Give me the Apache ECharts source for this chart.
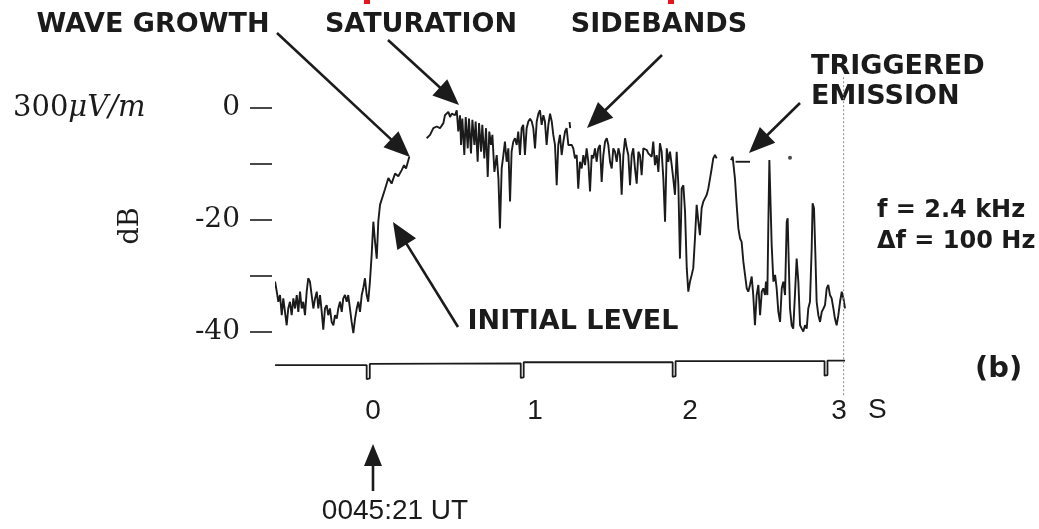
<!DOCTYPE html>
<html>
<head>
<meta charset="utf-8">
<script src="https://cdn.jsdelivr.net/npm/echarts@6/dist/echarts.min.js"></script>
<style>html,body{margin:0;padding:0;background:#fff}#c{width:1039px;height:529px}</style>
</head>
<body>
<div id="c"></div>
<script>
// ---- data: time in seconds, level in dB (re 300 uV/m) ----
const yTickValues = [0, -10, -20, -30, -40];
const yLabelValues = [0, -20, -40];
const xLabelValues = [0, 1, 2, 3];

const initialAndGrowth = [[-0.606,-31.0],[-0.595,-32.8],[-0.585,-34.6],[-0.574,-33.4],[-0.563,-37.0],[-0.553,-34.0],[-0.542,-36.4],[-0.531,-38.8],[-0.521,-35.8],[-0.510,-34.6],[-0.499,-37.0],[-0.488,-34.0],[-0.477,-35.8],[-0.466,-33.4],[-0.456,-36.4],[-0.445,-32.8],[-0.434,-35.8],[-0.424,-34.6],[-0.413,-37.0],[-0.402,-32.8],[-0.392,-30.4],[-0.381,-31.0],[-0.370,-33.4],[-0.359,-35.8],[-0.348,-34.0],[-0.337,-32.8],[-0.327,-35.8],[-0.316,-33.4],[-0.305,-36.4],[-0.295,-39.6],[-0.284,-35.8],[-0.273,-35.2],[-0.263,-37.0],[-0.252,-35.8],[-0.241,-38.2],[-0.230,-38.8],[-0.219,-37.0],[-0.208,-37.6],[-0.198,-35.8],[-0.187,-34.6],[-0.176,-36.4],[-0.166,-34.0],[-0.155,-33.4],[-0.144,-34.6],[-0.134,-33.4],[-0.123,-35.8],[-0.112,-38.2],[-0.101,-40.2],[-0.090,-37.6],[-0.079,-35.8],[-0.069,-34.6],[-0.058,-36.4],[-0.047,-33.4],[-0.037,-32.2],[-0.026,-30.4],[-0.015,-33.4],[-0.005,-34.6],[0.006,-31.0],[0.017,-26.3],[0.028,-20.3],[0.039,-23.9],[0.050,-26.9],[0.060,-20.3],[0.071,-17.3],[0.082,-17.1],[0.103,-14.5],[0.125,-12.5],[0.146,-13.5],[0.168,-11.7],[0.189,-12.2],[0.211,-11.1],[0.226,-10.2],[0.239,-10.8],[0.260,-8.7]];

const saturationAndSidebands = [[0.372,-5.4],[0.394,-4.8],[0.415,-3.6],[0.437,-3.3],[0.458,-3.6],[0.480,-2.7],[0.490,-1.3],[0.512,-0.7],[0.523,-1.6],[0.534,-1.0],[0.544,-0.7],[0.555,-1.3],[0.566,-0.4],[0.576,-4.2],[0.587,-1.3],[0.594,-6.6],[0.602,-1.9],[0.615,-8.4],[0.624,-1.6],[0.637,-7.2],[0.645,-1.9],[0.658,-8.1],[0.667,-2.1],[0.680,-6.6],[0.688,-2.4],[0.701,-9.6],[0.710,-2.7],[0.723,-7.8],[0.731,-3.0],[0.744,-9.0],[0.755,-3.6],[0.766,-12.3],[0.776,-4.2],[0.787,-6.6],[0.796,-4.8],[0.809,-11.4],[0.824,-8.4],[0.835,-12.6],[0.845,-21.5],[0.856,-10.8],[0.867,-8.4],[0.877,-6.0],[0.888,-9.6],[0.899,-7.2],[0.910,-16.7],[0.920,-7.8],[0.931,-6.0],[0.942,-5.4],[0.953,-6.6],[0.963,-4.2],[0.974,-8.4],[0.985,-3.6],[0.995,-3.0],[1.006,-8.4],[1.017,-3.6],[1.028,-2.4],[1.039,-1.9],[1.050,-2.4],[1.060,-3.6],[1.071,-7.2],[1.082,-2.4],[1.093,-1.0],[1.103,-0.4],[1.114,-3.0],[1.125,-1.3],[1.135,-2.4],[1.146,-6.6],[1.157,-3.0],[1.168,-1.0],[1.179,-2.4],[1.189,-4.8],[1.200,-6.6],[1.211,-13.8],[1.221,-6.6],[1.232,-4.8],[1.243,-8.4],[1.254,-6.0],[1.265,-4.2],[1.275,-3.6],[1.286,-6.6],[1.308,-6.6],[1.318,-7.2],[1.329,-9.0],[1.340,-8.4],[1.350,-14.4],[1.361,-9.6],[1.372,-10.8],[1.383,-8.4],[1.394,-10.2],[1.404,-7.2],[1.415,-9.6],[1.426,-14.9],[1.437,-8.4],[1.447,-9.0],[1.458,-7.2],[1.469,-9.6],[1.479,-7.2],[1.490,-6.6],[1.501,-13.2],[1.512,-8.4],[1.523,-6.0],[1.534,-5.4],[1.544,-6.6],[1.555,-9.6],[1.566,-10.8],[1.576,-7.2],[1.587,-7.8],[1.598,-9.6],[1.609,-7.2],[1.619,-8.4],[1.630,-15.5],[1.641,-8.4],[1.652,-5.4],[1.663,-7.2],[1.673,-8.4],[1.684,-13.8],[1.695,-8.4],[1.705,-7.2],[1.716,-10.8],[1.727,-13.5],[1.738,-7.8],[1.748,-8.4],[1.759,-12.0],[1.770,-7.2],[1.781,-6.9],[1.792,-7.5],[1.802,-8.1],[1.813,-7.8],[1.824,-8.7],[1.834,-6.0],[1.845,-10.2],[1.856,-8.4],[1.867,-11.4],[1.877,-6.3],[1.888,-7.8],[1.899,-12.6],[1.910,-20.3],[1.921,-7.2],[1.931,-9.6],[1.942,-7.8],[1.953,-10.2],[1.963,-12.6],[1.974,-15.5],[1.985,-7.8],[1.996,-13.8],[2.006,-26.9],[2.013,-20.3],[2.017,-14.4],[2.028,-13.8],[2.039,-18.5],[2.050,-28.6],[2.060,-32.8],[2.071,-31.0],[2.082,-29.8],[2.092,-28.6],[2.103,-23.3],[2.114,-17.3],[2.125,-20.3],[2.135,-22.7],[2.146,-17.9],[2.157,-16.7],[2.168,-16.1],[2.179,-15.5],[2.189,-14.4],[2.200,-12.6],[2.211,-10.8],[2.221,-9.0],[2.232,-8.4],[2.243,-9.0]];

const triggeredEmission = [[2.335,-9.3],[2.346,-8.7],[2.355,-9.0],[2.361,-12.6],[2.372,-17.3],[2.383,-21.5],[2.394,-23.3],[2.404,-23.9],[2.415,-27.4],[2.426,-29.8],[2.437,-32.2],[2.447,-32.8],[2.458,-31.6],[2.469,-30.1],[2.479,-33.4],[2.490,-38.8],[2.501,-33.4],[2.512,-31.6],[2.523,-37.0],[2.534,-32.8],[2.544,-32.2],[2.555,-33.4],[2.561,-31.0],[2.570,-33.4],[2.576,-21.5],[2.583,-9.3],[2.592,-9.6],[2.598,-24.5],[2.609,-31.0],[2.620,-29.8],[2.630,-32.2],[2.641,-36.4],[2.652,-38.2],[2.663,-32.2],[2.673,-31.0],[2.684,-33.4],[2.695,-20.3],[2.701,-19.7],[2.708,-27.4],[2.716,-35.8],[2.727,-38.8],[2.737,-39.4],[2.748,-33.4],[2.759,-26.9],[2.770,-31.0],[2.781,-38.8],[2.792,-39.4],[2.802,-39.9],[2.813,-38.8],[2.824,-39.4],[2.834,-35.8],[2.845,-34.6],[2.856,-25.1],[2.862,-17.0],[2.871,-17.9],[2.880,-26.3],[2.888,-34.6],[2.899,-37.0],[2.910,-38.2],[2.921,-36.4],[2.932,-35.8],[2.942,-35.2],[2.953,-32.2],[2.963,-31.6],[2.974,-33.4],[2.985,-34.0],[2.996,-35.8],[3.006,-37.6],[3.017,-38.8],[3.028,-37.0],[3.039,-34.6],[3.050,-32.8],[3.061,-34.0],[3.071,-35.8]];

const emissionDash = [[2.365,-9.6],[2.458,-9.6]];
const sidebandFragment = [[1.294,-2.5],[1.298,-3.6]];
const strayDots = [[2.716,-8.9]];

// one-second timing marks (bottom trace)
const timingTrace = [[-0.606,-45.9],[-0.015,-45.9],[-0.015,-48.4],[0.005,-48.3],[0.005,-45.7],[0.979,-45.6],[0.979,-48.2],[0.998,-48.1],[0.998,-45.4],[1.959,-45.4],[1.959,-48.0],[1.978,-47.9],[1.978,-45.2],[2.939,-45.2],[2.939,-47.8],[2.958,-47.7],[2.958,-45.1],[3.071,-45.1]];
const endMarker = [[3.062,5.5],[3.062,-51.5]];

// ---- chart ----
const INK = '#1b1b1b';
function traceSeries(data, width) {
  return {type: 'line', data: data, showSymbol: false, clip: false, silent: true,
          lineStyle: {color: INK, width: width || 1.9}, animation: false};
}

function arrow(x1, y1, x2, y2, hl, hw) {
  hl = hl || 26; hw = hw || 11;
  const dx = x2 - x1, dy = y2 - y1, L = Math.hypot(dx, dy);
  const ux = dx / L, uy = dy / L;
  const bx = x2 - ux * hl, by = y2 - uy * hl;
  const px = -uy, py = ux;
  return [
    {type: 'line', shape: {x1: x1, y1: y1, x2: bx + ux * 2, y2: by + uy * 2}, style: {stroke: INK, lineWidth: 2.6}},
    {type: 'polygon', shape: {points: [[x2, y2], [bx + px * hw, by + py * hw], [bx - px * hw, by - py * hw]]}, style: {fill: INK}}
  ];
}
function label(text, x, y, font, align) {
  return {type: 'text', x: x, y: y, style: {text: text, font: font, fill: INK,
          align: align || 'left', verticalAlign: 'middle', textAlign: align || 'left', textVerticalAlign: 'middle'}};
}
const SANS_B = 'bold 27px "DejaVu Sans"';

const graphics = [].concat(
  [
    {type: 'rect', shape: {x: 364, y: 0, width: 6, height: 4}, style: {fill: '#e8141c'}},
    {type: 'rect', shape: {x: 668, y: 0, width: 6, height: 4}, style: {fill: '#e8141c'}},
    label('WAVE GROWTH', 153, 25, SANS_B, 'center'),
    label('SATURATION', 421, 25, SANS_B, 'center'),
    label('SIDEBANDS', 659, 25, SANS_B, 'center'),
    label('TRIGGERED', 811, 67, SANS_B),
    label('EMISSION', 811, 97, SANS_B),
    label('INITIAL LEVEL', 573, 322, SANS_B, 'center'),
    label('f = 2.4 kHz', 877, 211, 'bold 24px "DejaVu Sans"'),
    label('\u0394f = 100 Hz', 877, 242, 'bold 24px "DejaVu Sans"'),
    label('(b)', 975, 369, 'bold 29px "DejaVu Sans"'),
    label('S', 868, 410, '28px "Liberation Sans"'),
    label('0045:21 UT', 395, 511, '28px "Liberation Sans"', 'center'),
    {type: 'text', x: 13, y: 108, style: {
      text: '{a|300}{b|\u03bcV/m}', verticalAlign: 'middle', textVerticalAlign: 'middle',
      rich: {a: {font: '29px "DejaVu Serif"', fill: INK},
             b: {font: 'italic 29px "DejaVu Serif"', fill: INK}}}},
    {type: 'text', x: 131, y: 226, rotation: Math.PI / 2, style: {text: 'dB', font: '27px "DejaVu Serif"', fill: INK,
      align: 'center', verticalAlign: 'middle', textAlign: 'center', textVerticalAlign: 'middle'}}
  ],
  arrow(277, 33, 410, 157),
  arrow(388, 40, 459, 105),
  arrow(662, 55, 587, 128),
  arrow(800, 103, 749, 153),
  arrow(458, 327, 393, 222),
  arrow(373, 491, 373, 444, 22, 9)
);

const chart = echarts.init(document.getElementById('c'), null, {renderer: 'canvas'});
chart.setOption({
  animation: false,
  backgroundColor: '#ffffff',
  grid: {left: 276, top: 63.2, width: 573.5, height: 324.8},
  xAxis: {
    type: 'value', min: -0.6, max: 3.1,
    axisLine: {show: false, onZero: false}, axisTick: {show: false}, splitLine: {show: false},
    axisLabel: {customValues: xLabelValues, margin: 9, fontFamily: '"Liberation Sans"', fontSize: 28, color: INK,
      formatter: function (v) { return '{l' + v + '|' + v + '}'; },
      rich: {l0: {padding: [0, 0, 0, 8]}, l1: {padding: [0, 0, 0, 22]}, l2: {padding: [0, 0, 0, 22]}, l3: {padding: [0, 0, 0, 10]}}}
  },
  yAxis: {
    type: 'value', min: -50, max: 8, offset: 4,
    axisLine: {show: false, onZero: false}, splitLine: {show: false},
    axisTick: {show: true, inside: false, length: 22, customValues: yTickValues, lineStyle: {color: INK, width: 1.6}},
    axisLabel: {customValues: yLabelValues, margin: 32, fontFamily: '"DejaVu Serif"', fontSize: 28, color: INK}
  },
  series: [
    traceSeries(initialAndGrowth),
    traceSeries(saturationAndSidebands),
    traceSeries(triggeredEmission),
    traceSeries(emissionDash),
    traceSeries(sidebandFragment),
    traceSeries(timingTrace, 1.8),
    Object.assign(traceSeries(endMarker), {lineStyle: {color: '#8a8a8a', width: 1, type: [2, 2]}}),
    {type: 'scatter', data: strayDots, symbolSize: 4, itemStyle: {color: INK}, silent: true, animation: false}
  ],
  graphic: {elements: graphics}
});
</script>
</body>
</html>
